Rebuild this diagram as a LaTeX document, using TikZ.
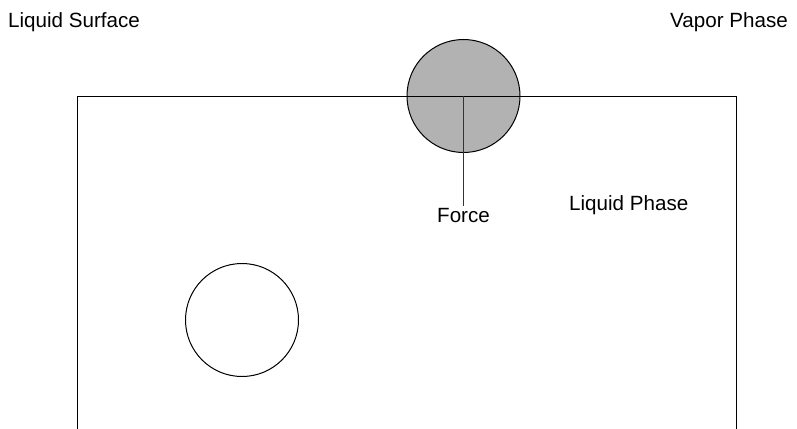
\documentclass[tikz,border=0pt]{standalone}
\usepackage{fontspec}
\setmainfont{Liberation Sans}
\begin{document}
\begin{tikzpicture}[x=1pt,y=-1pt,
  label/.style={font=\fontsize{20.6}{23}\selectfont, inner sep=0pt},
  particle/.style={circle, draw=black, line width=1pt, minimum size=113pt, inner sep=0pt},
  wall/.style={draw=black, line width=1pt}]
\useasboundingbox (0,0) rectangle (797,428);
% particles
\node[particle, fill=black!30] (surf) at (463.5,96) {};
\node[particle, fill=white] (bulk) at (242,320) {};
% container walls (open at the bottom)
\coordinate (bl) at (77,430);
\coordinate (tl) at (77,96);
\coordinate (tr) at (736,96);
\coordinate (br) at (736,430);
\draw[wall] (bl) -- (tl) -- (tr) -- (br);
% labels
\node[label, anchor=base west] (ls) at (8,28) {Liquid Surface};
\node[label, anchor=base east] (vp) at (788,28) {Vapor Phase};
\node[label, anchor=base west] (lp) at (569,210) {Liquid Phase};
\node[label, anchor=base] (force) at (463.5,222) {Force};
% force line from the surface particle's centre
\draw[line width=1pt, draw=black!80] (surf.center) -- ([yshift=2pt]force.north);
\end{tikzpicture}
\end{document}
